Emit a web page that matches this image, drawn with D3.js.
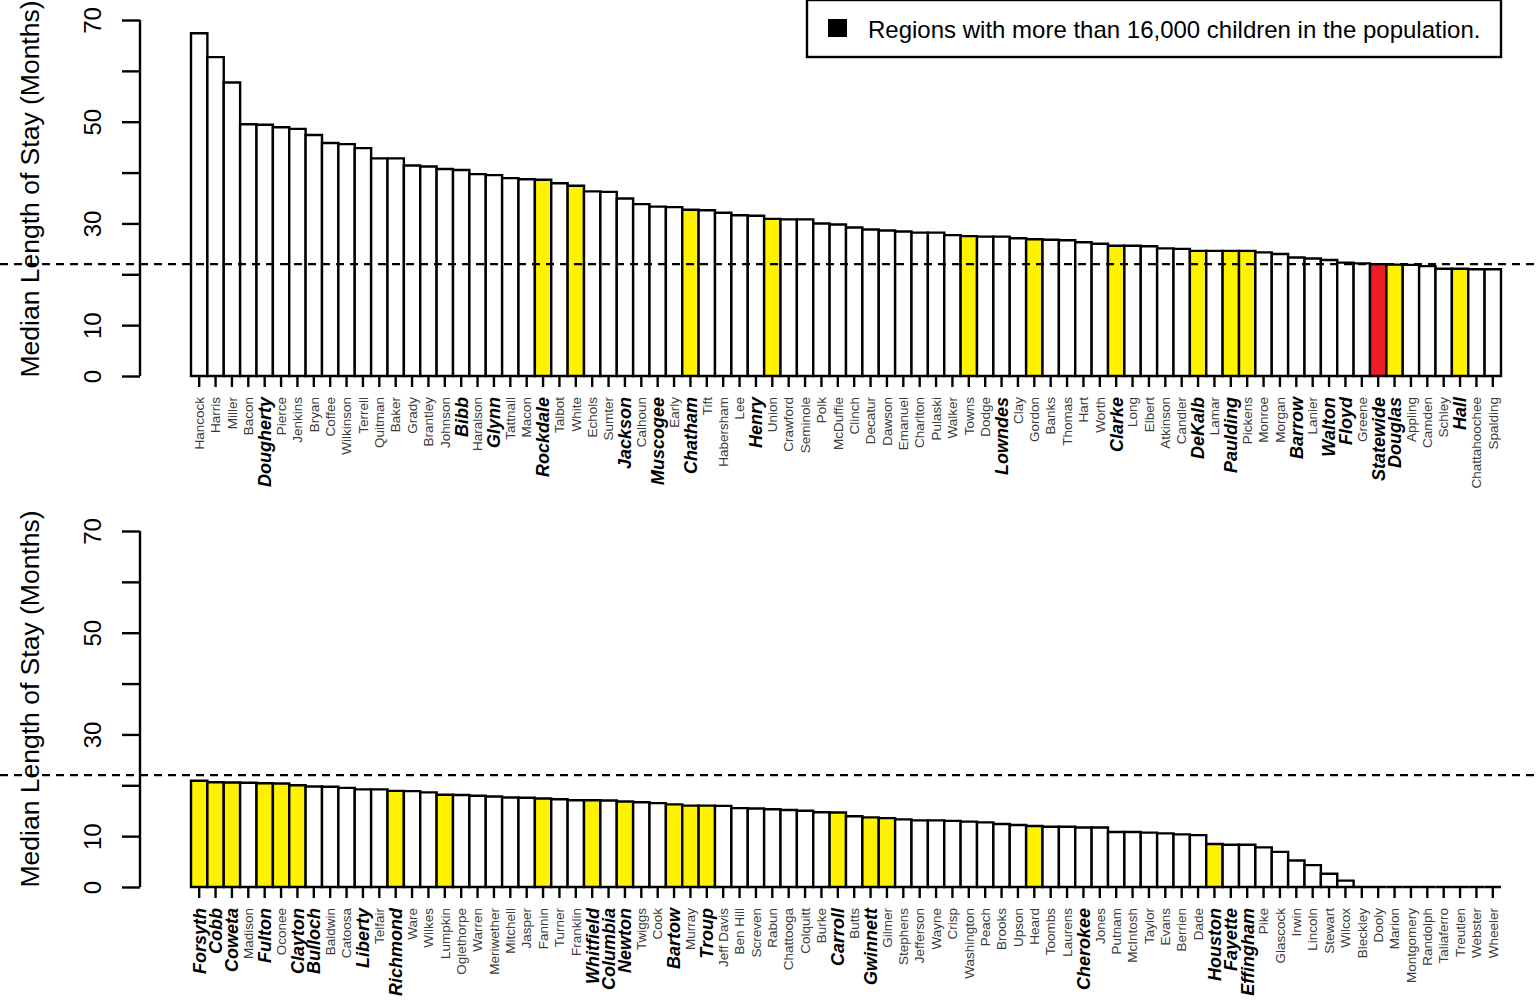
<!DOCTYPE html>
<html><head><meta charset="utf-8">
<script src="https://cdn.jsdelivr.net/npm/d3@7"></script>
<style>body{margin:0;background:#fff;}svg{display:block;font-family:"Liberation Sans",Arial,Helvetica,sans-serif;}</style>
</head><body>
<script>
// ---- Data ----
const topNames = ["Hancock","Harris","Miller","Bacon","Dougherty","Pierce","Jenkins","Bryan","Coffee","Wilkinson","Terrell","Quitman","Baker","Grady","Brantley","Johnson","Bibb","Haralson","Glynn","Tattnall","Macon","Rockdale","Talbot","White","Echols","Sumter","Jackson","Calhoun","Muscogee","Early","Chatham","Tift","Habersham","Lee","Henry","Union","Crawford","Seminole","Polk","McDuffie","Clinch","Decatur","Dawson","Emanuel","Charlton","Pulaski","Walker","Towns","Dodge","Lowndes","Clay","Gordon","Banks","Thomas","Hart","Worth","Clarke","Long","Elbert","Atkinson","Candler","DeKalb","Lamar","Paulding","Pickens","Monroe","Morgan","Barrow","Lanier","Walton","Floyd","Greene","Statewide","Douglas","Appling","Camden","Schley","Hall","Chattahoochee","Spalding"];
const topValues = [67.4,62.7,57.7,49.5,49.4,48.9,48.6,47.4,45.8,45.6,44.8,42.8,42.8,41.4,41.2,40.7,40.5,39.7,39.5,38.9,38.7,38.6,37.9,37.4,36.3,36.2,34.9,33.8,33.3,33.2,32.7,32.6,32.1,31.6,31.5,30.9,30.8,30.8,30.0,29.8,29.2,28.8,28.6,28.4,28.2,28.2,27.7,27.5,27.4,27.4,27.1,26.9,26.8,26.7,26.3,26.0,25.6,25.6,25.5,25.1,25.0,24.6,24.6,24.6,24.6,24.3,24.0,23.3,23.1,22.8,22.3,22.15,22.0,21.9,21.85,21.6,21.1,21.1,21.0,21.0];
const topYellow = ["Rockdale","White","Chatham","Union","Towns","Gordon","Clarke","DeKalb","Paulding","Pickens","Douglas","Hall"];
const topRed = ["Statewide"];
const topBold = ["Dougherty","Bibb","Glynn","Rockdale","Jackson","Muscogee","Chatham","Henry","Lowndes","Clarke","DeKalb","Paulding","Barrow","Walton","Floyd","Statewide","Douglas","Hall"];

const botNames = ["Forsyth","Cobb","Coweta","Madison","Fulton","Oconee","Clayton","Bulloch","Baldwin","Catoosa","Liberty","Telfair","Richmond","Ware","Wilkes","Lumpkin","Oglethorpe","Warren","Meriwether","Mitchell","Jasper","Fannin","Turner","Franklin","Whitfield","Columbia","Newton","Twiggs","Cook","Bartow","Murray","Troup","Jeff Davis","Ben Hill","Screven","Rabun","Chattooga","Colquitt","Burke","Carroll","Butts","Gwinnett","Gilmer","Stephens","Jefferson","Wayne","Crisp","Washington","Peach","Brooks","Upson","Heard","Toombs","Laurens","Cherokee","Jones","Putnam","McIntosh","Taylor","Evans","Berrien","Dade","Houston","Fayette","Effingham","Pike","Glascock","Irwin","Lincoln","Stewart","Wilcox","Bleckley","Dooly","Marion","Montgomery","Randolph","Taliaferro","Treutlen","Webster","Wheeler"];
const botValues = [20.9,20.6,20.55,20.5,20.4,20.35,20.0,19.75,19.7,19.5,19.2,19.2,18.9,18.85,18.6,18.15,18.1,17.95,17.8,17.6,17.55,17.4,17.25,17.05,17.05,17.0,16.8,16.65,16.5,16.25,16.0,16.0,15.95,15.5,15.45,15.3,15.15,15.0,14.7,14.65,13.9,13.7,13.55,13.3,13.1,13.1,13.0,12.85,12.7,12.4,12.2,12.0,11.85,11.85,11.7,11.7,10.8,10.8,10.7,10.55,10.35,10.2,8.45,8.3,8.3,7.8,6.9,5.2,4.3,2.6,1.25,0,0,0,0,0,0,0,0,0];
const botYellow = ["Forsyth","Cobb","Coweta","Fulton","Oconee","Clayton","Richmond","Lumpkin","Fannin","Whitfield","Newton","Bartow","Murray","Troup","Carroll","Gwinnett","Gilmer","Heard","Houston"];
const botBold = ["Forsyth","Cobb","Coweta","Fulton","Clayton","Bulloch","Liberty","Richmond","Whitfield","Columbia","Newton","Bartow","Troup","Carroll","Gwinnett","Cherokee","Houston","Fayette","Effingham"];

const statewide = 22;
const yTicks = [0,10,20,30,40,50,60,70];
const yTickLabels = {0:"0",10:"10",30:"30",50:"50",70:"70"};
const yTitle = "Median Length of Stay (Months)";
const legendText = "Regions with more than 16,000 children in the population.";

// ---- Drawing ----
const W = 1540, H = 1001;
const svg = d3.select("body").append("svg").attr("width", W).attr("height", H);

function panel(names, values, yellow, red, bold, top, bottom, titleY) {
  const x = d3.scaleBand().domain(names).range([191, 1501]).padding(0);
  const y = d3.scaleLinear().domain([0, 70]).range([bottom, top]);
  const g = svg.append("g");

  // bars (as paths so zero-height bars still show as a line)
  g.selectAll("path.bar").data(names).join("path")
    .attr("d", (d, i) => {
      const x0 = x(d), x1 = x(d) + x.bandwidth(), y0 = y(0), y1 = y(values[i]);
      return `M${x0},${y0}V${y1}H${x1}V${y0}Z`;
    })
    .attr("fill", d => red.includes(d) ? "#EE1C25" : yellow.includes(d) ? "#FFF200" : "#fff")
    .attr("stroke", "#000").attr("stroke-width", 2.4);

  // x ticks
  const xa = g.append("g").attr("transform", `translate(0,${bottom})`)
    .call(d3.axisBottom(x).tickSize(11).tickFormat(""));
  xa.select(".domain").remove();
  xa.selectAll(".tick line").attr("stroke", "#000").attr("stroke-width", 2.4);

  // x labels
  g.selectAll("text.lab").data(names).join("text")
    .attr("transform", d => `translate(${x(d) + x.bandwidth() / 2},${bottom + 21}) rotate(-90)`)
    .attr("text-anchor", "end")
    .attr("dy", "0.35em")
    .style("font-size", d => bold.includes(d) ? "18px" : "13.5px")
    .style("font-weight", d => bold.includes(d) ? "bold" : "normal")
    .style("font-style", d => bold.includes(d) ? "italic" : "normal")
    .attr("fill", d => bold.includes(d) ? "#000" : "#3a3a3a")
    .text(d => d);

  // y axis
  const ya = g.append("g").attr("transform", "translate(140,0)")
    .call(d3.axisLeft(y).tickValues(yTicks).tickSize(18).tickPadding(0)
      .tickFormat(d => yTickLabels[d] || ""));
  ya.select(".domain").attr("d", `M0,${y(0)}V${y(70)}`).attr("stroke", "#000").attr("stroke-width", 2.4);
  ya.selectAll(".tick line").attr("stroke", "#000").attr("stroke-width", 2.4);
  ya.selectAll(".tick text")
    .attr("x", null).attr("dy", null)
    .attr("transform", "translate(-48,0) rotate(-90)")
    .attr("text-anchor", "middle")
    .attr("dominant-baseline", "central")
    .style("font-size", "24px").attr("fill", "#000")
    .style("font-family", "'Liberation Sans',Arial,sans-serif");

  // y title
  g.append("text")
    .attr("transform", `translate(30,${titleY}) rotate(-90)`)
    .attr("text-anchor", "middle").attr("dominant-baseline", "central")
    .style("font-size", "26.5px").attr("fill", "#000")
    .text(yTitle);

  // statewide dashed line
  g.append("line").attr("x1", 0).attr("x2", W)
    .attr("y1", y(statewide)).attr("y2", y(statewide))
    .attr("stroke", "#000").attr("stroke-width", 2.2).attr("stroke-dasharray", "8,6");
}

panel(topNames, topValues, topYellow, topRed, topBold, 20, 376, 189);
panel(botNames, botValues, botYellow, [], botBold, 531, 887, 699);

// legend
const lg = svg.append("g");
lg.append("rect").attr("x", 807).attr("y", 0).attr("width", 694).attr("height", 57)
  .attr("fill", "#fff").attr("stroke", "#000").attr("stroke-width", 2.4);
lg.append("rect").attr("x", 828).attr("y", 19).attr("width", 19).attr("height", 18).attr("fill", "#000");
lg.append("text").attr("x", 868).attr("y", 29).attr("dominant-baseline", "central")
  .style("font-size", "24px").attr("fill", "#000").text(legendText);
</script>
</body></html>
